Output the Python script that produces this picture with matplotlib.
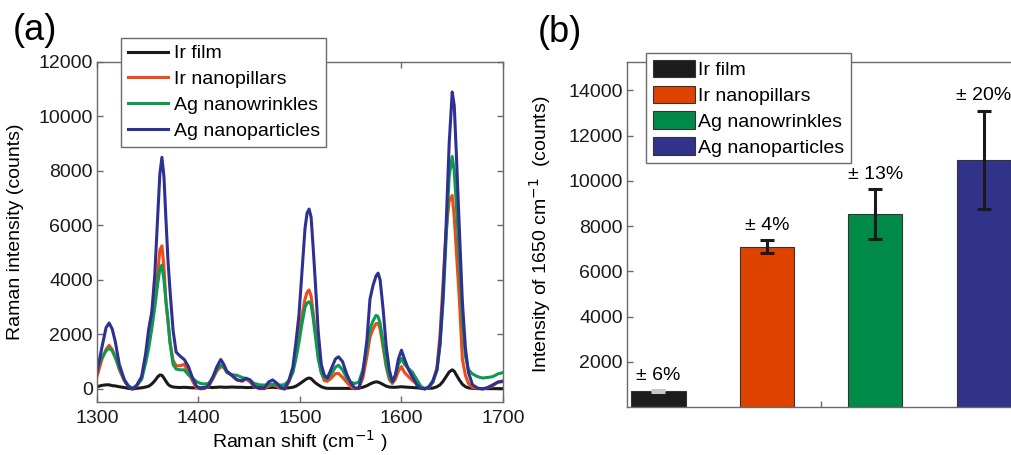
import matplotlib
matplotlib.use("Agg")
import matplotlib.pyplot as plt
from matplotlib.patches import Patch

plt.rcParams["font.family"] = ["Liberation Sans", "DejaVu Sans"]
plt.rcParams["font.size"] = 14

# ---- panel (a): Raman spectra ----
shift = [
    1300, 1305, 1309, 1312, 1315, 1318, 1322, 1327, 1331, 1335,
    1339, 1344, 1348, 1351, 1354, 1357, 1360, 1362, 1364, 1366,
    1368, 1370, 1372, 1375, 1378, 1382, 1386, 1390, 1394, 1398,
    1402, 1406, 1410, 1414, 1418, 1422, 1425, 1428, 1433, 1438,
    1443, 1447, 1451, 1455, 1460, 1465, 1469, 1473, 1477, 1481,
    1485, 1489, 1493, 1496, 1499, 1502, 1505, 1507, 1509, 1511,
    1513, 1515, 1518, 1521, 1524, 1527, 1531, 1535, 1538, 1542,
    1546, 1550, 1554, 1558, 1562, 1566, 1569, 1572, 1575, 1577,
    1579, 1582, 1585, 1588, 1591, 1594, 1597, 1600, 1603, 1607,
    1611, 1615, 1619, 1623, 1627, 1631, 1635, 1638, 1641, 1644,
    1647, 1650, 1652, 1654, 1657, 1660, 1663, 1666, 1670, 1675,
    1680, 1685, 1690, 1695, 1700,
]

ir_film = [
    80, 130, 150, 150, 120, 110, 80, 50, 20, 0,
    20, 40, 70, 100, 180, 300, 450, 510, 500, 400,
    280, 170, 110, 70, 60, 50, 60, 50, 40, 40,
    40, 50, 60, 50, 60, 70, 60, 60, 70, 60,
    60, 50, 50, 60, 50, 40, 50, 60, 50, 40,
    30, 40, 60, 100, 170, 250, 330, 380, 400, 380,
    300, 230, 150, 80, 40, 20, 20, 20, 20, 20,
    20, 20, 20, 30, 60, 120, 180, 230, 260, 250,
    220, 160, 100, 70, 60, 60, 70, 80, 70, 60,
    50, 40, 30, 20, 20, 30, 80, 150, 280, 450,
    620, 700, 650, 520, 330, 170, 80, 40, 20, 10,
    10, 10, 10, 10, 10,
]

ir_pillars = [
    450, 1100, 1450, 1600, 1450, 1200, 700, 300, 80, 0,
    100, 400, 1100, 2000, 2800, 3500, 4300, 5100, 5250, 4500,
    3200, 2500, 1700, 1050, 850, 850, 900, 620, 300, 40,
    0, 20, 100, 350, 650, 820, 780, 620, 480, 330,
    280, 360, 250, 80, 10, 10, 100, 150, 100, 20,
    0, 250, 650, 1300, 2000, 2700, 3300, 3550, 3630, 3400,
    2800, 2200, 1200, 600, 300, 280, 400, 560, 570, 420,
    250, 80, 0, 40, 400, 1200, 1900, 2200, 2400, 2400,
    2200, 1500, 800, 350, 200, 350, 650, 820, 600, 450,
    300, 200, 60, 0, 60, 250, 800, 2000, 3900, 5800,
    6900, 7100, 6300, 5100, 3300, 1100, 500, 200, 50, 20,
    0, 40, 120, 250, 300,
]

ag_wrinkles = [
    800, 1150, 1400, 1500, 1400, 1150, 780, 330, 120, 20,
    120, 350, 950, 1500, 2200, 3000, 3900, 4400, 4550, 4000,
    3200, 2500, 1700, 900, 730, 700, 700, 520, 400, 270,
    200, 180, 200, 400, 700, 880, 820, 600, 520, 500,
    420, 380, 300, 200, 150, 140, 160, 170, 150, 140,
    160, 300, 600, 1100, 1700, 2400, 3000, 3150, 3200, 3100,
    2600, 2000, 1100, 600, 400, 380, 550, 800, 870, 700,
    400, 250, 200, 250, 700, 1500, 2200, 2500, 2700, 2650,
    2400, 1700, 900, 450, 250, 500, 900, 1120, 900, 750,
    600, 350, 100, 0, 60, 250, 700, 1600, 3200, 5500,
    7800, 8530, 8000, 6800, 4800, 2600, 1200, 700, 550, 450,
    400, 420, 450, 550, 600,
]

ag_particles = [
    600, 1550, 2250, 2420, 2200, 1750, 900, 330, 80, 0,
    120, 450, 1300, 2200, 2800, 4200, 6450, 7900, 8500, 7800,
    6200, 4700, 3600, 2150, 1350, 1200, 1080, 830, 420, 100,
    20, 30, 130, 420, 800, 1080, 900, 650, 500, 330,
    300, 390, 330, 100, 20, 30, 250, 330, 220, 50,
    0, 300, 800, 1700, 2700, 4300, 5900, 6450, 6600, 6300,
    5200, 4000, 2100, 900, 500, 400, 750, 1100, 1180, 1000,
    550, 220, 30, 20, 600, 1800, 3300, 3800, 4150, 4250,
    4000, 2900, 1550, 700, 270, 500, 1100, 1420, 1100, 700,
    430, 150, 20, 0, 80, 300, 700, 1700, 3500, 6000,
    9000, 10900, 10400, 8700, 5900, 3200, 1500, 600, 150, 30,
    0, 50, 150, 250, 270,
]

# ---- panel (b): intensity at 1650 cm-1 ----
samples = ["Ir film", "Ir nanopillars", "Ag nanowrinkles", "Ag nanoparticles"]
peak_1650 = [690, 7080, 8530, 10920]
peak_err = [41, 283, 1109, 2184]
rel_err = ["\u00b1 6%", "\u00b1 4%", "\u00b1 13%", "\u00b1 20%"]

line_colors = ["#1a1a1a", "#ee4b17", "#0c9a50", "#2e3192"]
bar_colors = ["#1c1c1c", "#e04200", "#008a47", "#31338a"]
err_colors = ["#c8c8c8", "#1a1a1a", "#1a1a1a", "#1a1a1a"]
spine_col = "#6a6a6a"

fig = plt.figure(figsize=(10.12, 4.55), dpi=100)
ax1 = fig.add_axes([0.0958, 0.1165, 0.4012, 0.7473])
ax2 = fig.add_axes([0.6196, 0.1055, 0.3834, 0.7582])

series = [ir_film, ir_pillars, ag_wrinkles, ag_particles]
for ys, name, c in zip(series, samples, line_colors):
    ax1.plot(shift, ys, color=c, lw=2.2, label=name)

ax1.set_xlim(1300, 1700)
ax1.set_ylim(-480, 12000)
ax1.set_xticks([1300, 1400, 1500, 1600, 1700])
ax1.set_yticks(range(0, 12001, 2000))
ax1.set_xlabel("Raman shift (cm$^{-1}$ )")
ax1.set_ylabel("Raman intensity (counts)")
ax1.xaxis.set_label_coords(0.5, -0.078)
ax1.yaxis.set_label_coords(-0.18, 0.5)
leg1 = ax1.legend(loc="upper left", bbox_to_anchor=(0.1196, 0.9165),
                  bbox_transform=fig.transFigure, borderaxespad=0,
                  fancybox=False, framealpha=1, edgecolor=spine_col,
                  handlelength=2.05, handletextpad=0.3, labelspacing=0.42,
                  borderpad=0.35, fontsize=14)
leg1.get_frame().set_linewidth(1.0)

x_pos = [1, 2, 3, 4]
ax2.bar(x_pos, peak_1650, width=0.5, color=bar_colors,
        edgecolor="#333333", linewidth=0.8, zorder=2)
for xp, v, e, ec, lab in zip(x_pos, peak_1650, peak_err, err_colors, rel_err):
    ax2.errorbar(xp, v, yerr=e, fmt="none", ecolor=ec, elinewidth=2.2,
                 capsize=5, capthick=2.2, zorder=3)
    ax2.text(xp, v + e + 280, lab, ha="center", va="bottom", fontsize=14)

ax2.set_xlim(0.71, 4.29)
ax2.set_ylim(0, 15250)
ax2.set_xticks([2.5])
ax2.set_xticklabels([""])
ax2.set_yticks(range(2000, 14001, 2000))
ax2.set_ylabel("Intensity of 1650 cm$^{-1}$  (counts)")
ax2.yaxis.set_label_coords(-0.19, 0.5)
handles = [Patch(facecolor=c, edgecolor="#333333", linewidth=0.8) for c in bar_colors]
leg2 = ax2.legend(handles, samples, loc="upper left",
                  bbox_to_anchor=(0.6383, 0.8835), bbox_transform=fig.transFigure,
                  borderaxespad=0, fancybox=False, framealpha=1,
                  edgecolor=spine_col, handlelength=2.15, handleheight=1.0,
                  handletextpad=0.2, labelspacing=0.33, borderpad=0.35,
                  fontsize=14)
leg2.get_frame().set_linewidth(1.0)

for ax in (ax1, ax2):
    for s in ax.spines.values():
        s.set_color(spine_col)
        s.set_linewidth(1.0)
    ax.tick_params(direction="in", length=4, width=1, color=spine_col,
                   top=True, right=True, labelsize=14, labelcolor="#1a1a1a")
    ax.tick_params(axis="y", pad=3)
    ax.tick_params(axis="x", pad=6)
ax2.tick_params(right=False, top=False)

fig.text(13 / 1012, 1 - 30 / 455, "(a)", fontsize=26, va="center", ha="left")
fig.text(538 / 1012, 1 - 33 / 455, "(b)", fontsize=26, va="center", ha="left")

fig.savefig("out.png", dpi=100)
